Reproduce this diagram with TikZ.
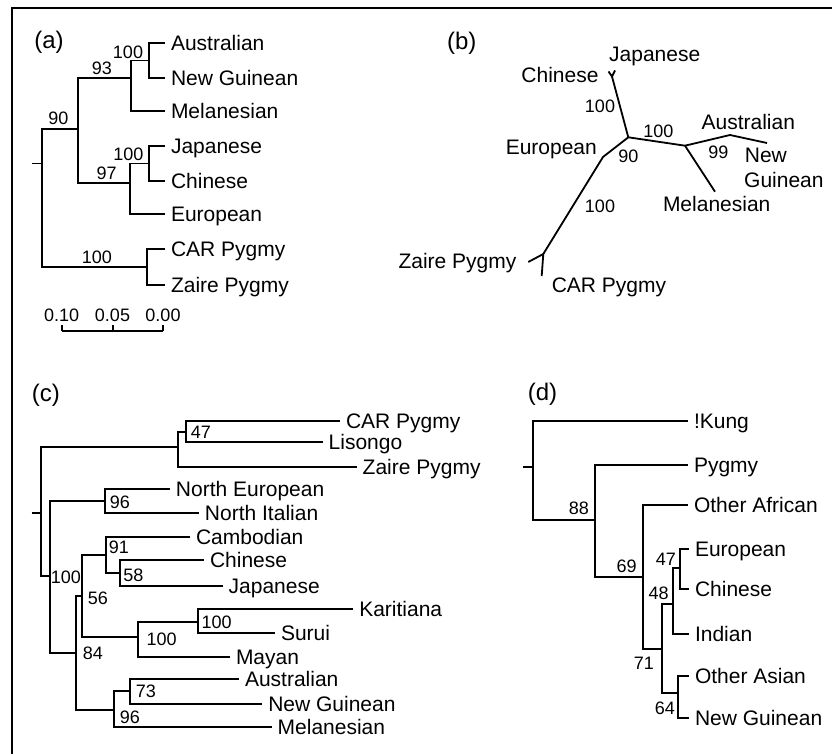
\documentclass[tikz,border=0pt]{standalone}
\usepackage{fontspec}
\setmainfont{Liberation Sans}
\begin{document}
\begin{tikzpicture}[x=0.5pt,y=-0.5pt,line width=0.9pt,
  leaf/.style={anchor=west,inner xsep=3pt,inner ysep=0pt,outer sep=0pt,font=\fontsize{10.5}{12}\selectfont,text height=7.5pt,text depth=0pt},
  blab/.style={inner sep=0pt,font=\fontsize{10.5}{12}\selectfont,text height=7.5pt,text depth=0pt},
  num/.style={inner sep=0pt,font=\fontsize{9}{10}\selectfont,text height=6.45pt,text depth=0pt},
  plab/.style={inner sep=0pt,font=\fontsize{12}{14}\selectfont,text height=8.6pt,text depth=0pt}]
\useasboundingbox (0,0) rectangle (832,754);
% frame
\draw (12,754) -- (12,8) -- (832,8);

% ---------------- panel (a)
\node[plab] (pa) at (49,40) {(a)};
\coordinate (aS) at (32,163.5);
\coordinate (aR) at (42,163.5);
\coordinate (a90) at (78,129.3);
\coordinate (a93) at (131,77.7);
\coordinate (a100a) at (149,60.5);
\coordinate (a97) at (130,182.7);
\coordinate (a100b) at (149,163.5);
\coordinate (a100c) at (147,267.3);
\node[leaf] (aAus) at (165,43) {Australian};
\node[leaf] (aNG) at (165,78) {New Guinean};
\node[leaf] (aMel) at (165,110.7) {Melanesian};
\node[leaf] (aJap) at (165,146) {Japanese};
\node[leaf] (aChi) at (165,181) {Chinese};
\node[leaf] (aEur) at (165,214) {European};
\node[leaf] (aCAR) at (165,249) {CAR Pygmy};
\node[leaf] (aZai) at (165,285) {Zaire Pygmy};
\draw (aS) -- (aR);
\draw (aR) |- (a90);
\draw (aR) |- (a100c);
\draw (a90) |- (a93);
\draw (a90) |- (a97);
\draw (a93) |- (a100a);
\draw (a93) |- (aMel.west);
\draw (a100a) |- (aAus.west);
\draw (a100a) |- (aNG.west);
\draw (a97) |- (a100b);
\draw (a97) |- (aEur.west);
\draw (a100b) |- (aJap.west);
\draw (a100b) |- (aChi.west);
\draw (a100c) |- (aCAR.west);
\draw (a100c) |- (aZai.west);
\node[num] (an1) at (128,51.7) {100};
\node[num] (an2) at (102,68) {93};
\node[num] (an3) at (58.3,118.3) {90};
\node[num] (an4) at (128.3,154) {100};
\node[num] (an5) at (106.7,173.3) {97};
\node[num] (an6) at (97,257.5) {100};
% scale bar
\node[num] (sc1) at (61.7,315) {0.10};
\node[num] (sc2) at (112.5,315) {0.05};
\node[num] (sc3) at (163,315) {0.00};
\coordinate (sb1) at (61.7,330.7);
\coordinate (sb2) at (112.6,330.7);
\coordinate (sb3) at (163.3,330.7);
\coordinate (st1) at (61.7,325);
\coordinate (st2) at (112.6,325);
\coordinate (st3) at (163.3,325);
\draw (sb1) -- (sb3);
\draw (sb1) -- (st1);
\draw (sb2) -- (st2);
\draw (sb3) -- (st3);

% ---------------- panel (b)
\node[plab] (pb) at (461.7,40.5) {(b)};
\coordinate (bCJ) at (612,76.5);
\coordinate (bJap) at (615,70.5);
\coordinate (bChi) at (608.5,71.5);
\coordinate (bC) at (628.3,137.3);
\coordinate (bE) at (603,157);
\coordinate (bPyg) at (543.3,254);
\coordinate (bZai) at (528.3,262);
\coordinate (bCAR) at (541.7,276);
\coordinate (bA) at (685,145.7);
\coordinate (bMel) at (715,191.7);
\coordinate (bAus) at (730,135);
\coordinate (bNG) at (767,143);
\draw (bChi) -- (bCJ) -- (bJap);
\draw (bCJ) -- (bC);
\draw (bC) -- (bE) -- (bPyg);
\draw (bZai) -- (bPyg) -- (bCAR);
\draw (bC) -- (bA) -- (bMel);
\draw (bA) -- (bAus) -- (bNG);
\node[blab] (bJapL) at (654.7,54) {Japanese};
\node[blab] (bChiL) at (560,75) {Chinese};
\node[blab] (bEurL) at (551.3,146.7) {European};
\node[blab] (bAusL) at (748.3,122.3) {Australian};
\node[blab,anchor=west] (bNewL) at (744,155) {New};
\node[blab,anchor=west] (bGuiL) at (743.3,180) {Guinean};
\node[blab] (bMelL) at (716.7,204) {Melanesian};
\node[blab] (bZaiL) at (457.5,261) {Zaire Pygmy};
\node[blab] (bCARL) at (609,285) {CAR Pygmy};
\node[num] (bn1) at (600,106) {100};
\node[num] (bn2) at (628.3,156) {90};
\node[num] (bn3) at (658.3,131) {100};
\node[num] (bn4) at (718.3,151.7) {99};
\node[num] (bn5) at (600,206) {100};

% ---------------- panel (c)
\node[plab] (pc) at (45.8,393.3) {(c)};
\coordinate (cS) at (31.7,513.3);
\coordinate (cR) at (41,513.3);
\coordinate (cP) at (178.3,446.7);
\coordinate (cP47) at (186,431.7);
\coordinate (cN100) at (50,576);
\coordinate (cN96) at (105,500.7);
\coordinate (cN84) at (76,652.7);
\coordinate (cN56) at (81.7,596);
\coordinate (cN91) at (106,555);
\coordinate (cN58) at (120,572.7);
\coordinate (cN100b) at (138.3,637.3);
\coordinate (cN100c) at (197.7,621.7);
\coordinate (cN96b) at (114,710);
\coordinate (cN73) at (130,690.7);
\node[leaf] (cCAR) at (340,420.7) {CAR Pygmy};
\node[leaf] (cLis) at (322.7,442.3) {Lisongo};
\node[leaf] (cZai) at (356.7,466.7) {Zaire Pygmy};
\node[leaf] (cNEu) at (170,489.3) {North European};
\node[leaf] (cNIt) at (199,513.3) {North Italian};
\node[leaf] (cCam) at (190,537.3) {Cambodian};
\node[leaf] (cChi) at (204,560) {Chinese};
\node[leaf] (cJap) at (222.7,586) {Japanese};
\node[leaf] (cKar) at (353.3,609.3) {Karitiana};
\node[leaf] (cSur) at (275,633.3) {Surui};
\node[leaf] (cMay) at (230,656.7) {Mayan};
\node[leaf] (cAus) at (239,679) {Australian};
\node[leaf] (cNG) at (262.3,704.3) {New Guinean};
\node[leaf] (cMel) at (271.7,727.3) {Melanesian};
\draw (cS) -- (cR);
\draw (cR) |- (cP);
\draw (cR) |- (cN100);
\draw (cP) |- (cP47);
\draw (cP) |- (cZai.west);
\draw (cP47) |- (cCAR.west);
\draw (cP47) |- (cLis.west);
\draw (cN100) |- (cN96);
\draw (cN100) |- (cN84);
\draw (cN96) |- (cNEu.west);
\draw (cN96) |- (cNIt.west);
\draw (cN84) |- (cN56);
\draw (cN84) |- (cN96b);
\draw (cN56) |- (cN91);
\draw (cN56) |- (cN100b);
\draw (cN91) |- (cCam.west);
\draw (cN91) |- (cN58);
\draw (cN58) |- (cChi.west);
\draw (cN58) |- (cJap.west);
\draw (cN100b) |- (cN100c);
\draw (cN100b) |- (cMay.west);
\draw (cN100c) |- (cKar.west);
\draw (cN100c) |- (cSur.west);
\draw (cN96b) |- (cN73);
\draw (cN96b) |- (cMel.west);
\draw (cN73) |- (cAus.west);
\draw (cN73) |- (cNG.west);
\node[num] (cn1) at (200.8,431.7) {47};
\node[num] (cn2) at (120,501.7) {96};
\node[num] (cn3) at (65.8,576.7) {100};
\node[num] (cn4) at (118.8,547.3) {91};
\node[num] (cn5) at (133.3,575) {58};
\node[num] (cn6) at (97.8,598.3) {56};
\node[num] (cn7) at (216.7,621.7) {100};
\node[num] (cn8) at (161.7,639.3) {100};
\node[num] (cn9) at (93,653.3) {84};
\node[num] (cn10) at (146,691) {73};
\node[num] (cn11) at (130,716.7) {96};

% ---------------- panel (d)
\node[plab] (pd) at (542.5,391.7) {(d)};
\coordinate (dS) at (523.3,466.7);
\coordinate (dR) at (533.3,466.7);
\coordinate (dN88) at (595,520);
\coordinate (dN69) at (643.3,576.7);
\coordinate (dN71) at (661.7,649.3);
\coordinate (dN48) at (673.3,604.3);
\coordinate (dN47) at (680,568.3);
\coordinate (dN64) at (678.3,692.7);
\node[leaf] (dKung) at (688,420.7) {!Kung};
\node[leaf] (dPyg) at (688,465) {Pygmy};
\node[leaf] (dOAf) at (688,505) {Other African};
\node[leaf] (dEur) at (689,549) {European};
\node[leaf] (dChi) at (689,589.3) {Chinese};
\node[leaf] (dInd) at (689,634.3) {Indian};
\node[leaf] (dOAs) at (689,676) {Other Asian};
\node[leaf] (dNG) at (689,717.7) {New Guinean};
\draw (dS) -- (dR);
\draw (dR) |- (dKung.west);
\draw (dR) |- (dN88);
\draw (dN88) |- (dPyg.west);
\draw (dN88) |- (dN69);
\draw (dN69) |- (dOAf.west);
\draw (dN69) |- (dN71);
\draw (dN71) |- (dN48);
\draw (dN71) |- (dN64);
\draw (dN48) |- (dN47);
\draw (dN48) |- (dInd.west);
\draw (dN47) |- (dEur.west);
\draw (dN47) |- (dChi.west);
\draw (dN64) |- (dOAs.west);
\draw (dN64) |- (dNG.west);
\node[num] (dn1) at (578.8,508.3) {88};
\node[num] (dn2) at (626.7,566) {69};
\node[num] (dn3) at (665.8,559.3) {47};
\node[num] (dn4) at (658.7,593.3) {48};
\node[num] (dn5) at (644,663.3) {71};
\node[num] (dn6) at (665,708.3) {64};
\end{tikzpicture}
\end{document}
